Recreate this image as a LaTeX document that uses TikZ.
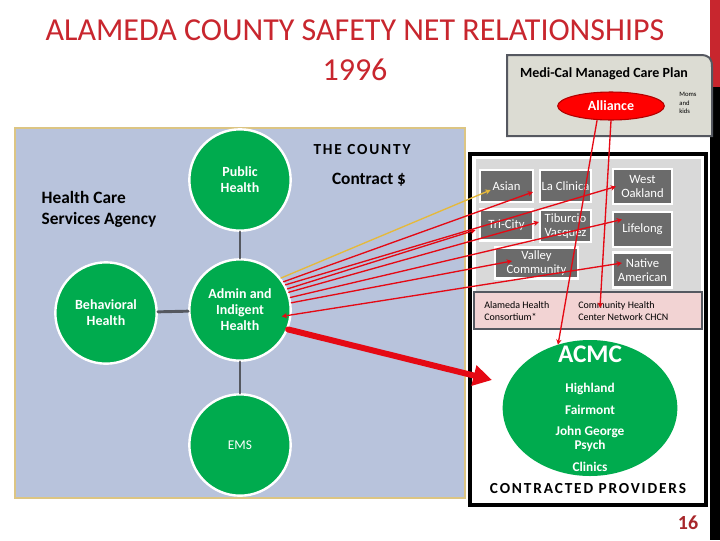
\documentclass[tikz,border=0pt]{standalone}
\usepackage{fontspec}
\setmainfont{Carlito}
\newfontfamily\spacedfont[LetterSpace=12]{Carlito}
\usetikzlibrary {arrows.meta}
\usetikzlibrary {calc}
\usetikzlibrary {shapes.geometric}

\definecolor{titlered}{HTML}{C8262E}
\definecolor{countyblue}{HTML}{B8C3DC}
\definecolor{countyrim}{HTML}{DCC583}
\definecolor{circgreen}{HTML}{00AB4E}
\definecolor{boxgray}{HTML}{6B6B6B}
\definecolor{panelgray}{HTML}{D9D9D9}
\definecolor{pinkish}{HTML}{F2D3D3}
\definecolor{planfill}{HTML}{DCDCD3}
\definecolor{arrowred}{HTML}{E50914}
\definecolor{linkgray}{HTML}{555860}
\definecolor{goldline}{HTML}{E6B93A}
\definecolor{pagenum}{HTML}{A8272B}

\tikzset{
  agency/.style={circle, fill=circgreen, draw=white, line width=1.8pt, minimum size=76pt,
    text=white, align=center, font=\fontsize{10.5}{12}\selectfont\bfseries},
  clinic/.style={rectangle, fill=boxgray, draw=white, line width=1.8pt, text=white,
    align=center, inner sep=1pt, font=\fontsize{9.5}{10}\selectfont},
  link/.style={draw=linkgray, line width=2.2pt},
  fund/.style={draw=arrowred, line width=1pt, -{Stealth[length=4pt, width=4pt]}},
}

\begin{document}
\begin{tikzpicture}[x=0.75pt, y=-0.75pt, line cap=round]

    \useasboundingbox (0,0) rectangle (720,540);

    % side bar
    \fill[titlered] (710,0) rectangle (720,87);
    \fill[black] (710,87) rectangle (720,540);

    % title
    \node[text=titlered, font=\fontsize{24}{28}\selectfont] (title) at (355,30)
        {ALAMEDA COUNTY SAFETY NET RELATIONSHIPS};
    \node[text=titlered, font=\fontsize{24}{28}\selectfont] (year) at (355,70) {1996};

    % managed care plan
    \draw[draw=linkgray, fill=planfill, line width=1.5pt]
        (507,136) -- (507,55) -- (700,55) .. controls (709,55) and (712,58) .. (712,67)
        -- (712,136) -- cycle;
    \node[font=\fontsize{10.5}{12}\selectfont\bfseries] (plan) at (604,74) {Medi-Cal Managed Care Plan};
    \node[ellipse, fill=red, draw=red!70!black, line width=0.8pt, minimum width=80pt,
        minimum height=21pt, text=white, font=\fontsize{10.5}{12}\selectfont\bfseries]
        (alliance) at (611,106) {Alliance};
    \node[align=left, font=\fontsize{5}{6.5}\selectfont, inner sep=0pt] (moms) at (688,103)
        {Moms\\and\\kids};

    % the county
    \fill[countyblue, draw=countyrim, line width=1.2pt] (15,128) rectangle (465,498);
    \node[font=\spacedfont\fontsize{11.5}{13}\selectfont\bfseries] (county) at (362,150) {THE COUNTY};
    \node[font=\fontsize{13}{15}\selectfont\bfseries] (contract) at (369,180) {Contract \$};
    \node[anchor=west, align=left, font=\fontsize{13}{15.75}\selectfont\bfseries] (hcsa) at (37,209)
        {Health Care\\Services Agency};

    \node[agency] (pub) at (240,180) {Public\\Health};
    \node[agency] (bh) at (106,313) {Behavioral\\Health};
    \node[agency] (aih) at (240,310) {Admin and\\Indigent\\Health};
    \node[agency, font=\fontsize{10}{12}\selectfont] (ems) at (240,445) {EMS};

    \draw[link] (pub) -- (aih);
    \draw[link] (bh) -- (aih);
    \draw[link] (aih) -- (ems);

    % contracted providers
    \draw[black, fill=white, line width=3pt] (470,154) rectangle (706,505);
    \fill[panelgray] (476,159) rectangle (701,291);
    \draw[draw=linkgray, fill=pinkish, line width=1.5pt] (474,292) rectangle (702,329);

    \node[clinic, minimum width=40pt, minimum height=24pt] (asian) at (506.5,186) {Asian};
    \node[clinic, minimum width=38pt, minimum height=24pt] (laclin) at (565.5,186) {La Clinica};
    \node[clinic, minimum width=44pt, minimum height=26pt] (woak) at (642.5,186.5) {West\\Oakland};
    \node[clinic, minimum width=40pt, minimum height=23pt] (tcity) at (506.5,225) {Tri-City};
    \node[clinic, minimum width=38pt, minimum height=24pt] (tibur) at (565.5,226) {Tiburcio\\Vasquez};
    \node[clinic, minimum width=44pt, minimum height=26pt] (lifel) at (642.5,229.5) {Lifelong};
    \node[clinic, minimum width=62pt, minimum height=23pt] (valley) at (536.5,263) {Valley\\Community};
    \node[clinic, minimum width=44pt, minimum height=26pt] (native) at (642.5,270) {Native\\American};

    \node[anchor=west, align=left, font=\fontsize{7.5}{9.5}\selectfont, inner sep=0pt] (ahc) at (484,311)
        {Alameda Health\\Consortium*};
    \node[anchor=west, align=left, font=\fontsize{7.5}{9.5}\selectfont, inner sep=0pt] (chcn) at (578,311)
        {Community Health\\Center Network CHCN};

    \node[ellipse, fill=circgreen, minimum width=131pt, minimum height=102pt] (acmc) at (590,408) {};
    \node[text=white, font=\fontsize{19}{22}\selectfont\bfseries] (acmcname) at (590,354) {ACMC};
    \node[text=white, font=\fontsize{10}{12}\selectfont\bfseries] (highland) at (590,389) {Highland};
    \node[text=white, font=\fontsize{10}{12}\selectfont\bfseries] (fairmont) at (590,410) {Fairmont};
    \node[text=white, align=center, font=\fontsize{10}{10.5}\selectfont\bfseries] (jgeorge) at (590,439)
        {John George\\Psych};
    \node[text=white, font=\fontsize{10}{12}\selectfont\bfseries] (clinics) at (590,467) {Clinics};
    \node[font=\spacedfont\fontsize{11.5}{13}\selectfont\bfseries] (contracted) at (588,489)
        {CONTRACTED PROVIDERS};

    % contract money
    \draw[fund, draw=goldline] (aih.38) -- ($(asian.west)+(12,4)$);
    \draw[fund] (aih.33) -- ($(laclin.west)+(-6,6)$);
    \draw[fund] (aih.29) -- ($(woak.west)+(4,0)$);
    \draw[fund] (aih.24) -- ($(tcity.west)+(-3,5)$);
    \draw[fund] (aih.20) -- ($(tibur.west)+(0,-4)$);
    \draw[fund] (aih.14) -- ($(lifel.west)+(10,-10)$);
    \draw[fund] (aih.8) -- ($(valley.west)+(18,-2)$);
    \draw[fund, {Stealth[length=4pt, width=4pt]}-{Stealth[length=4pt, width=4pt]}]
        ($(aih.4)+(-10,10)$) -- ($(native.west)+(10,-7)$);

    \coordinate (hit) at (492,380);
    \draw[draw=arrowred, line width=4.5pt, -{Triangle[length=14pt, width=15pt]}] (aih.-22) -- (hit);

    % plan money
    \draw[fund] ($(alliance.south)+(-14,0)$) -- ($(acmc.north)+(-32,5)$);
    \draw[fund] ($(alliance.south)+(0,0)$) -- ($(chcn.north west)+(22,7)$);

    \node[text=pagenum, font=\fontsize{15}{18}\selectfont\bfseries] (page) at (688,523) {16};

\end{tikzpicture}
\end{document}
